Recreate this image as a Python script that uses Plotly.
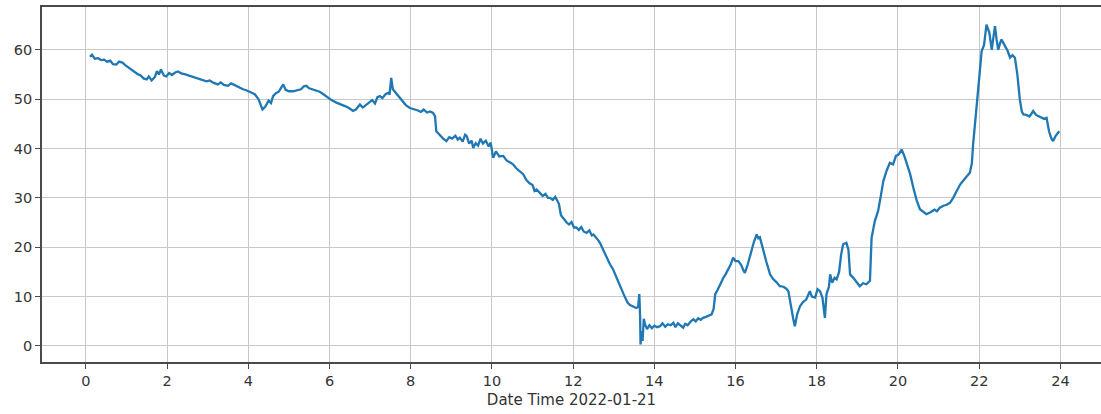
import plotly.graph_objects as go

hours = [
    0.10, 0.15, 0.22, 0.30, 0.38, 0.45, 0.52, 0.60, 0.67, 0.75, 0.82, 0.90, 0.97,
    1.05, 1.12, 1.20, 1.27, 1.35, 1.42, 1.50, 1.55, 1.62, 1.70, 1.75, 1.80, 1.85, 1.92, 1.98,
    2.05, 2.12, 2.20, 2.27, 2.35, 2.45, 2.56, 2.65, 2.75, 2.85, 2.97,
    3.05, 3.15, 3.25, 3.32, 3.40, 3.50, 3.58, 3.65, 3.75, 3.87, 3.95,
    4.05, 4.16, 4.25, 4.30, 4.35, 4.42, 4.50, 4.56, 4.61, 4.68, 4.75, 4.80, 4.86, 4.92,
    5.00, 5.10, 5.20, 5.30, 5.37, 5.43, 5.50, 5.60, 5.68, 5.76, 5.85, 5.95,
    6.05, 6.17, 6.28, 6.38, 6.48, 6.58, 6.65, 6.75, 6.82, 6.90, 6.99,
    7.05, 7.12, 7.18, 7.24, 7.30, 7.38, 7.45, 7.48, 7.52, 7.56, 7.60, 7.68, 7.78, 7.88, 7.98,
    8.08, 8.18, 8.25, 8.32, 8.40, 8.48, 8.55, 8.60, 8.63, 8.70, 8.80, 8.88, 8.95,
    9.02, 9.10, 9.16, 9.21, 9.28, 9.34, 9.38, 9.44, 9.50, 9.54, 9.60, 9.66, 9.72, 9.78, 9.85, 9.92, 9.97,
    10.03, 10.10, 10.18, 10.28, 10.36, 10.44, 10.52, 10.60, 10.68, 10.77, 10.85, 10.92,
    11.00, 11.05, 11.10, 11.18, 11.25, 11.32, 11.38, 11.43, 11.50, 11.56, 11.59, 11.65, 11.70, 11.76, 11.84, 11.90, 11.96,
    12.02, 12.08, 12.14, 12.20, 12.26, 12.33, 12.40, 12.46, 12.50, 12.56, 12.62, 12.66, 12.72, 12.80, 12.86, 12.91, 12.98,
    13.05, 13.11, 13.18, 13.24, 13.28, 13.34, 13.40, 13.48, 13.55, 13.60, 13.63, 13.65, 13.66, 13.69, 13.71, 13.74, 13.77, 13.82, 13.88, 13.94,
    14.00, 14.07, 14.14, 14.20, 14.27, 14.33, 14.40, 14.47, 14.52, 14.58, 14.64, 14.71, 14.76, 14.82, 14.90, 14.96,
    15.02, 15.08, 15.14, 15.20, 15.27, 15.34, 15.41, 15.46, 15.50, 15.56, 15.62, 15.70, 15.76, 15.82, 15.88, 15.94,
    16.00, 16.07, 16.14, 16.20, 16.23, 16.30, 16.38, 16.45, 16.52, 16.56, 16.60, 16.68, 16.76, 16.85, 16.92,
    17.00, 17.09, 17.18, 17.25, 17.30, 17.36, 17.42, 17.46, 17.52, 17.59, 17.66, 17.74, 17.83, 17.88, 17.96,
    18.02, 18.08, 18.14, 18.20, 18.24, 18.30, 18.33, 18.38, 18.44, 18.49, 18.55, 18.60, 18.65, 18.73, 18.78, 18.82, 18.90, 18.98,
    19.06, 19.14, 19.22, 19.31, 19.35, 19.43, 19.51, 19.58, 19.64, 19.72, 19.80, 19.88, 19.95,
    20.02, 20.09, 20.16, 20.22, 20.30, 20.38, 20.46, 20.54, 20.62, 20.70, 20.80, 20.90, 20.96,
    21.03, 21.12, 21.20, 21.28, 21.36, 21.44, 21.53, 21.60, 21.68, 21.77, 21.82, 21.85, 21.92, 21.98,
    22.06, 22.12, 22.18, 22.25, 22.31, 22.35, 22.39, 22.43, 22.47, 22.52, 22.55, 22.62, 22.70, 22.76, 22.82, 22.88, 22.94,
    23.00, 23.05, 23.09, 23.16, 23.24, 23.33, 23.40, 23.48, 23.54, 23.60, 23.66, 23.72, 23.78, 23.82, 23.88, 23.93, 23.97,
]

values = [
    58.6, 59.0, 58.2, 58.3, 57.9, 58.0, 57.6, 57.8, 57.1, 57.0, 57.6, 57.4, 56.9,
    56.4, 56.0, 55.5, 55.1, 54.8, 54.2, 54.0, 54.6, 53.8, 54.5, 55.7, 55.0, 56.0, 54.8, 54.6,
    55.3, 54.9, 55.4, 55.6, 55.2, 55.0, 54.7, 54.4, 54.1, 53.9, 53.6,
    53.8, 53.3, 53.0, 53.4, 52.9, 52.7, 53.2, 52.9, 52.4, 52.0, 51.8,
    51.4, 51.0, 50.0, 48.8, 47.9, 48.5, 49.7, 49.2, 50.6, 51.2, 51.5, 52.2, 53.0, 51.9,
    51.6, 51.6, 51.8, 52.0, 52.6, 52.7, 52.2, 51.9, 51.8, 51.5, 51.0, 50.4,
    49.8, 49.3, 49.0, 48.6, 48.2, 47.6, 47.9, 48.9, 48.3, 48.8, 49.3,
    49.8, 49.1, 50.4, 50.6, 50.2, 51.0, 51.3, 50.9, 54.3, 52.0, 51.6, 50.6, 49.8, 48.8, 48.2,
    48.0, 47.7, 47.4, 47.9, 47.3, 47.5, 47.2, 46.5, 43.5, 42.8, 42.0, 41.5, 42.3,
    42.0, 42.6, 41.8, 42.2, 41.4, 42.8, 42.5, 41.0, 41.6, 40.1, 41.1, 40.6, 42.0, 41.0, 41.6, 40.4, 41.2,
    38.1, 39.4, 38.4, 38.5, 37.6, 37.2, 36.8, 36.0, 35.4, 34.8, 33.6, 33.0,
    32.6, 31.4, 31.7, 31.0, 30.4, 30.8, 30.0, 30.0, 29.6, 30.2, 29.7, 28.8, 26.5, 25.8, 25.0, 24.6, 25.1,
    24.0, 24.0, 23.5, 24.1, 23.2, 22.9, 23.4, 22.4, 22.6, 22.1, 21.4, 20.9, 19.8, 18.4, 17.4, 16.5, 15.6,
    14.2, 13.2, 11.8, 10.6, 9.8, 8.8, 8.3, 8.0, 7.7, 7.9, 10.5, 6.0, 0.3, 3.0, 1.0, 5.5, 4.4, 3.4, 4.2, 3.6,
    4.1, 3.8, 4.0, 4.6, 3.9, 4.4, 4.2, 4.7, 3.8, 4.6, 4.1, 3.7, 4.5, 4.2, 5.0, 5.4,
    5.0, 5.6, 5.3, 5.7, 5.9, 6.1, 6.4, 7.5, 10.5, 11.4, 12.5, 13.8, 14.6, 15.6, 16.5, 17.9,
    17.2, 17.2, 16.4, 15.2, 14.8, 16.5, 19.0, 21.0, 22.6, 21.8, 22.0, 19.2, 17.0, 14.5, 13.6,
    13.0, 12.1, 12.0, 11.6, 11.1, 8.0, 5.5, 4.0, 6.5, 8.1, 8.9, 9.4, 11.1, 10.0, 9.8,
    11.5, 11.1, 9.8, 5.7, 10.5, 12.0, 14.5, 12.8, 13.8, 13.5, 15.0, 18.5, 20.6, 20.9, 19.5, 14.5, 13.8, 13.0,
    12.1, 12.7, 12.5, 13.2, 21.9, 25.3, 27.3, 30.5, 33.4, 35.5, 37.1, 36.8, 38.5,
    38.8, 39.8, 38.4, 37.0, 34.8, 32.0, 29.5, 27.7, 27.2, 26.7, 27.1, 27.6, 27.3,
    28.0, 28.4, 28.6, 29.0, 30.0, 31.3, 32.7, 33.4, 34.3, 35.1, 37.0, 40.8, 47.0, 53.0,
    59.7, 61.0, 65.1, 63.5, 60.0, 62.5, 64.8, 62.0, 60.0, 61.5, 62.1, 61.0, 59.8, 58.4, 58.9, 58.4, 55.0,
    50.0, 47.5, 46.9, 46.8, 46.5, 47.6, 46.8, 46.5, 46.2, 46.0, 46.2, 43.5, 42.0, 41.5, 42.5, 43.0, 43.5,
]

x_title = "Date Time 2022-01-21"

fig = go.Figure()
fig.add_trace(go.Scatter(x=hours, y=values, mode="lines",
                         line=dict(color="#1f77b4", width=2.3), showlegend=False))

axis_common = dict(
    showgrid=True, gridcolor="#c8c8c8", gridwidth=1,
    showline=True, linecolor="#4a4a4a", linewidth=1.6, mirror=True,
    ticks="outside", ticklen=5, tickwidth=1.2, tickcolor="#4a4a4a",
    zeroline=False, automargin=False,
    tickfont=dict(family="DejaVu Sans", size=14.5, color="#333333"),
)

fig.update_layout(
    width=1101, height=414,
    margin=dict(l=42, r=0, t=7, b=52),
    paper_bgcolor="white", plot_bgcolor="white",
    xaxis=dict(range=[-1.08, 25.0], tickmode="linear", tick0=0, dtick=2,
               title=dict(text=x_title, standoff=6,
                          font=dict(family="DejaVu Sans", size=15, color="#333333")),
               **axis_common),
    yaxis=dict(range=[-3.25, 68.67], tickmode="linear", tick0=0, dtick=10,
               **axis_common),
)

fig.write_html("out.html",
               config={"displayModeBar": False},
               post_script="document.body.style.margin='0';document.body.style.overflow='hidden';")
